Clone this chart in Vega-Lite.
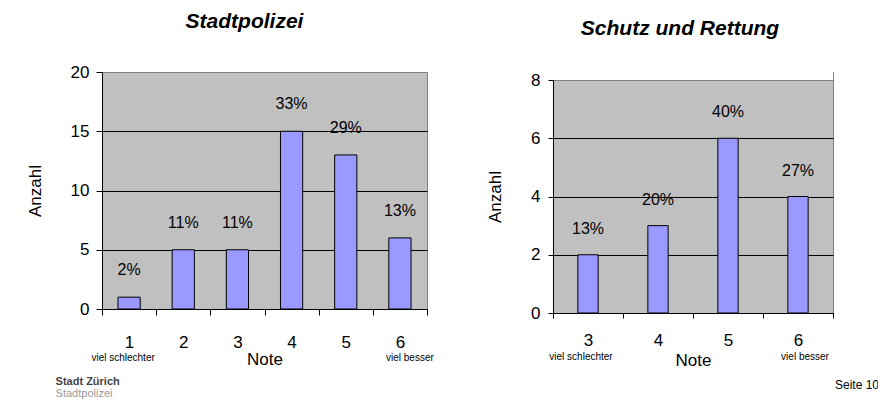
{
  "$schema": "https://vega.github.io/schema/vega-lite/v6.json",
  "background": "white",
  "padding": {"left": 25, "top": 10, "right": 0, "bottom": 0},
  "spacing": 51,
  "datasets": {
    "polizei": [
      {"note": "1", "anzahl": 1, "pct": "2%", "sub": "viel schlechter"},
      {"note": "2", "anzahl": 5, "pct": "11%", "sub": ""},
      {"note": "3", "anzahl": 5, "pct": "11%", "sub": ""},
      {"note": "4", "anzahl": 15, "pct": "33%", "sub": ""},
      {"note": "5", "anzahl": 13, "pct": "29%", "sub": ""},
      {"note": "6", "anzahl": 6, "pct": "13%", "sub": "viel besser"}
    ],
    "rettung": [
      {"note": "3", "anzahl": 2, "pct": "13%", "sub": "viel schlechter"},
      {"note": "4", "anzahl": 3, "pct": "20%", "sub": ""},
      {"note": "5", "anzahl": 6, "pct": "40%", "sub": ""},
      {"note": "6", "anzahl": 4, "pct": "27%", "sub": "viel besser"}
    ]
  },
  "config": {
    "font": "Liberation Sans",
    "view": {"fill": "#C0C0C0", "stroke": "#808080", "strokeWidth": 1},
    "axis": {
      "domainColor": "#000000", "tickColor": "#000000", "labelColor": "#000000", "titleColor": "#000000",
      "labelFont": "Liberation Sans", "titleFont": "Liberation Sans",
      "labelFontSize": 17, "titleFontSize": 17, "titleFontWeight": "normal", "grid": false
    },
    "text": {"font": "Liberation Sans", "color": "#000000"},
    "title": {"font": "Liberation Sans", "color": "#000000"}
  },
  "hconcat": [
    {
      "title": {"text": "Stadt Zürich", "subtitle": "Stadtpolizei", "orient": "bottom", "anchor": "start", "dx": 30, "offset": 8,
        "fontSize": 11, "fontWeight": "bold", "fontStyle": "normal", "color": "#444444",
        "subtitleFontSize": 11, "subtitleColor": "#9a9a9a", "subtitlePadding": 1},
      "vconcat": [
        {
          "width": 325, "height": 237,
          "title": {"text": "Stadtpolizei", "fontSize": 21, "fontWeight": "bold", "fontStyle": "italic", "frame": "group", "anchor": "middle", "dx": -20, "offset": 31},
          "data": {"name": "polizei"},
          "encoding": {
            "x": {"field": "note", "type": "ordinal", "scale": {"paddingInner": 0, "paddingOuter": 0},
              "axis": {"labelAngle": 0, "tickBand": "extent", "tickSize": 6, "labelPadding": 19, "title": "Note", "titlePadding": 1}},
            "y": {"field": "anzahl", "type": "quantitative", "scale": {"domain": [0, 20]},
              "axis": {"values": [0, 5, 10, 15, 20], "grid": true,
                "gridColor": {"condition": {"test": "datum.value == 20", "value": "#808080"}, "value": "#000000"},
                "tickSize": 6, "labelPadding": 7, "title": "Anzahl", "titlePadding": 26}}
          },
          "layer": [
            {"mark": {"type": "bar", "fill": "#9999FF", "stroke": "#000000", "strokeWidth": 1, "width": {"band": 0.41}}},
            {"mark": {"type": "text", "fontSize": 16, "baseline": "middle", "dy": -27}, "encoding": {"text": {"field": "pct"}}},
            {"transform": [{"filter": "datum.sub == 'viel schlechter'"}],
              "mark": {"type": "text", "fontSize": 10, "baseline": "middle", "dx": -6, "dy": 49},
              "encoding": {"y": {"datum": 0, "type": "quantitative"}, "text": {"field": "sub"}}},
            {"transform": [{"filter": "datum.sub == 'viel besser'"}],
              "mark": {"type": "text", "fontSize": 10, "baseline": "middle", "dx": 10, "dy": 49},
              "encoding": {"y": {"datum": 0, "type": "quantitative"}, "text": {"field": "sub"}}}
          ]
        }
      ]
    },
    {
      "title": {"text": "Seite 10", "orient": "bottom", "anchor": "end", "dx": 45, "offset": 11, "fontSize": 12, "fontWeight": "normal", "fontStyle": "normal"},
      "vconcat": [
        {
          "width": 280, "height": 241,
          "title": {"text": "Schutz und Rettung", "fontSize": 21, "fontWeight": "bold", "fontStyle": "italic", "frame": "group", "anchor": "middle", "dx": -13, "offset": 29},
          "data": {"name": "rettung"},
          "encoding": {
            "y": {"field": "anzahl", "type": "quantitative", "scale": {"domain": [0, 8], "range": [241, 8]},
              "axis": {"values": [0, 2, 4, 6, 8], "grid": true,
                "gridColor": {"condition": {"test": "datum.value == 8", "value": "#808080"}, "value": "#000000"},
                "tickSize": 5, "labelPadding": 8, "title": "Anzahl", "titlePadding": 26}}
          },
          "layer": [
            {"mark": {"type": "bar", "fill": "#9999FF", "stroke": "#000000", "strokeWidth": 1, "width": {"band": 0.29}},
              "encoding": {"x": {"field": "note", "type": "ordinal", "scale": {"paddingInner": 0, "paddingOuter": 0},
                "axis": {"labelAngle": 0, "tickBand": "extent", "tickSize": 5, "labelPadding": 14, "title": "Note", "titlePadding": 4}}}},
            {"mark": {"type": "text", "fontSize": 16, "baseline": "middle", "dy": -26},
              "encoding": {"x": {"field": "note", "type": "ordinal"}, "text": {"field": "pct"}}},
            {"transform": [{"filter": "datum.sub == 'viel schlechter'"}],
              "mark": {"type": "text", "fontSize": 10, "baseline": "middle", "dx": -7, "dy": 44},
              "encoding": {"x": {"field": "note", "type": "ordinal"}, "y": {"datum": 0, "type": "quantitative"}, "text": {"field": "sub"}}},
            {"transform": [{"filter": "datum.sub == 'viel besser'"}],
              "mark": {"type": "text", "fontSize": 10, "baseline": "middle", "dx": 7, "dy": 44},
              "encoding": {"x": {"field": "note", "type": "ordinal"}, "y": {"datum": 0, "type": "quantitative"}, "text": {"field": "sub"}}},
            {"transform": [{"filter": "datum.note == '3'"}],
              "mark": {"type": "rect", "fill": "#ffffff"},
              "encoding": {"y": {"datum": 8, "type": "quantitative"}, "y2": {"datum": 8.4}}}
          ]
        }
      ]
    }
  ]
}
